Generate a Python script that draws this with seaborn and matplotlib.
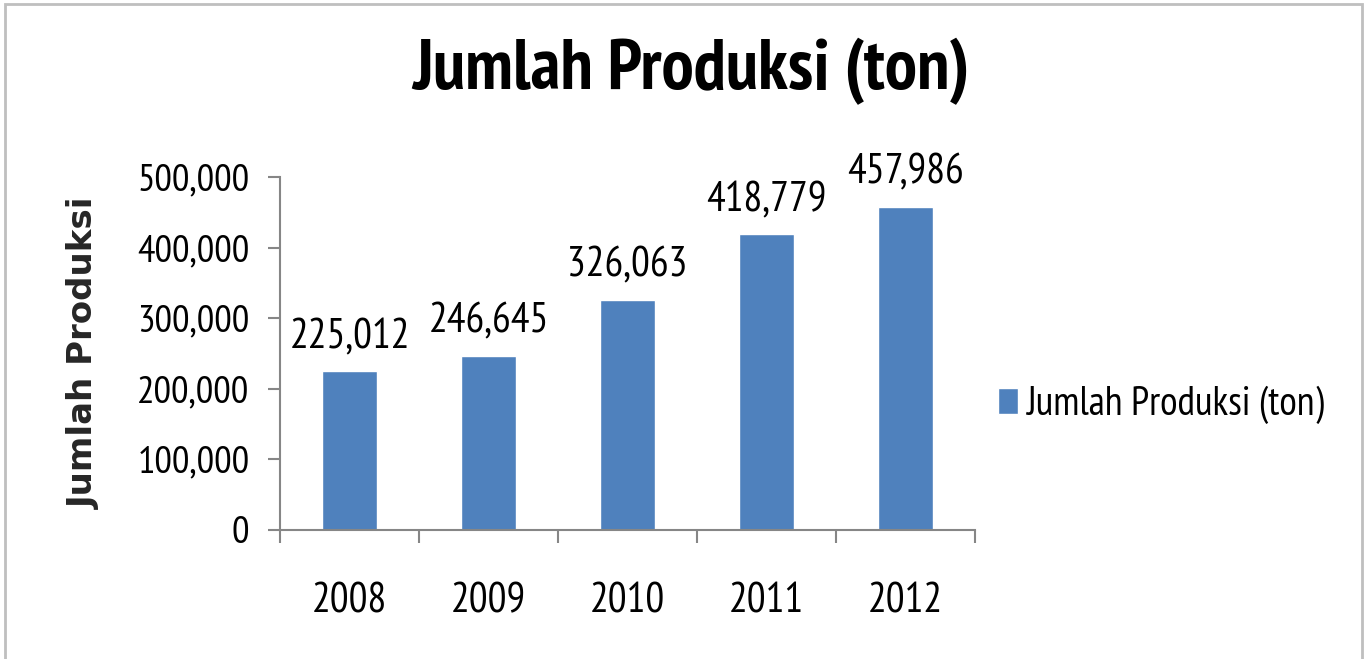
import matplotlib
matplotlib.use("Agg")
import matplotlib.pyplot as plt
from matplotlib.patches import Rectangle
from matplotlib.ticker import FuncFormatter
import seaborn as sns
import pandas as pd

# Data
tahun = ["2008", "2009", "2010", "2011", "2012"]
produksi = [225012, 246645, 326063, 418779, 457986]
judul = "Jumlah Produksi (ton)"
label_y = "Jumlah Produksi"
ticks_y = [0, 100000, 200000, 300000, 400000, 500000]

df = pd.DataFrame({"Tahun": tahun, "Produksi": produksi})

sns.set_style("white")
plt.rcParams["font.family"] = ["PT Sans Narrow", "Roboto Condensed", "DejaVu Sans"]
plt.rcParams["text.color"] = "black"
plt.rcParams["xtick.color"] = "black"
plt.rcParams["ytick.color"] = "black"

warna_batang = "#4F81BD"
warna_sumbu = "#868686"

fig = plt.figure(figsize=(13.68, 6.59), dpi=100)
ax = fig.add_axes([0.2047, 0.1958, 0.508, 0.5356])

sns.barplot(data=df, x="Tahun", y="Produksi", color=warna_batang, width=0.4,
            saturation=1, label=judul, ax=ax)

ax.set_ylim(0, 500000)
ax.set_xlim(-0.5, 4.5)
ax.set_yticks(ticks_y)
ax.yaxis.set_major_formatter(FuncFormatter(lambda v, p: f"{v:,.0f}"))

# label di tengah, garis tick di batas kategori
ax.set_xticks(range(len(tahun)))
ax.set_xticklabels(tahun)
ax.set_xticks([i - 0.5 for i in range(len(tahun) + 1)], minor=True)
ax.tick_params(axis="x", which="major", length=0, pad=38, labelsize=30)
ax.tick_params(axis="x", which="minor", length=9, width=1.5, color=warna_sumbu, direction="out")
ax.tick_params(axis="y", length=9, width=1.5, color=warna_sumbu, direction="out", pad=13, labelsize=28)
ax.tick_params(bottom=True, left=True, which="both")

for s in ["top", "right"]:
    ax.spines[s].set_visible(False)
for s in ["left", "bottom"]:
    ax.spines[s].set_color(warna_sumbu)
    ax.spines[s].set_linewidth(1.5)

ax.set_xlabel("")
ax.set_ylabel(label_y, fontsize=24.5, fontweight="bold", family=["DejaVu Sans"], labelpad=26)

ax.bar_label(ax.containers[0], labels=[f"{v:,}" for v in produksi], padding=10, fontsize=30)

fig.suptitle(judul, fontsize=52, fontweight="bold", x=0.505, y=0.892, va="center")

leg = ax.legend(loc="center left", bbox_to_anchor=(0.7295, 0.3854), bbox_transform=fig.transFigure,
                frameon=False, fontsize=29, handlelength=0.5, handleheight=0.62,
                handletextpad=0.2, borderpad=0, borderaxespad=0)

# bingkai luar
fig.patches.append(Rectangle((0.0037, -0.01), 0.992, 1.004, transform=fig.transFigure,
                             fill=False, edgecolor="#BFBFBF", linewidth=2))

fig.savefig("out.png", dpi=100)
